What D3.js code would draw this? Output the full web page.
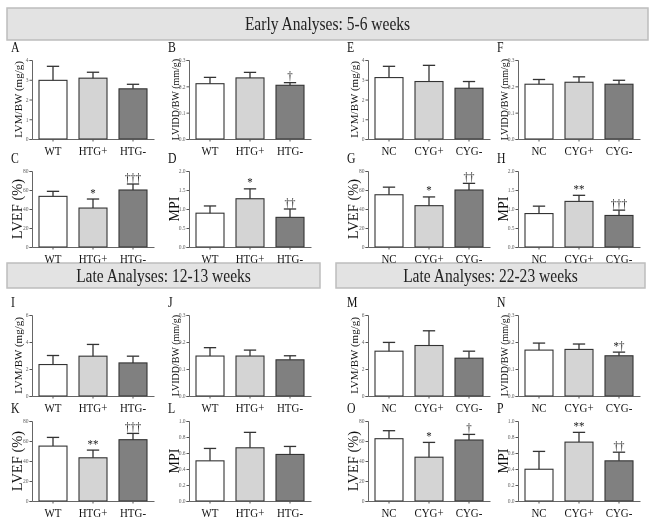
<!DOCTYPE html>
<html>
<head>
<meta charset="utf-8">
<script src="https://cdn.jsdelivr.net/npm/d3@7"></script>
<style>
  body { margin: 0; background: #fff; }
  svg { will-change: transform; }
  svg text { font-family: "Liberation Serif", "Times New Roman", serif; }
</style>
</head>
<body>
<div id="container"></div>
<script>
// groups
const htgGroups = ["WT", "HTG+", "HTG-"];
const cygGroups = ["NC", "CYG+", "CYG-"];

// tick labels
const ticksLVM4 = [0, 1, 2, 3, 4];
const ticksLVM6 = [0, 2, 4, 6];
const ticksLVIDD = [0, 0.1, 0.2, 0.3];
const ticksLVEF = [0, 20, 40, 60, 80];
const ticksMPI2 = [0, 0.5, 1.0, 1.5, 2.0];
const ticksMPI1 = [0, 0.2, 0.4, 0.6, 0.8, 1.0];

// early, HTG
const meanA = [2.97, 3.08, 2.54], errA = [0.71, 0.30, 0.23], sigA = ["", "", ""];
const meanB = [0.210, 0.232, 0.204], errB = [0.024, 0.021, 0.010], sigB = ["", "", "†"];
const meanC = [53.3, 41.0, 60.0], errC = [5.3, 9.5, 6.3], sigC = ["", "*", "†††"];
const meanD = [0.89, 1.27, 0.78], errD = [0.19, 0.26, 0.22], sigD = ["", "*", "††"];
// early, CYG
const meanE = [3.11, 2.91, 2.57], errE = [0.57, 0.82, 0.34], sigE = ["", "", ""];
const meanF = [0.208, 0.2155, 0.208], errF = [0.018, 0.0205, 0.015], sigF = ["", "", ""];
const meanG = [55.0, 43.5, 60.0], errG = [8.0, 9.2, 7.0], sigG = ["", "*", "††"];
const meanH = [0.88, 1.20, 0.83], errH = [0.195, 0.16, 0.14], sigH = ["", "**", "†††"];
// late 12-13 weeks, HTG
const meanI = [2.33, 2.95, 2.45], errI = [0.67, 0.87, 0.50], sigI = ["", "", ""];
const meanJ = [0.148, 0.148, 0.134], errJ = [0.031, 0.022, 0.015], sigJ = ["", "", ""];
const meanK = [54.9, 43.2, 61.3], errK = [8.7, 7.7, 6.3], sigK = ["", "**", "†††"];
const meanL = [0.502, 0.665, 0.582], errL = [0.155, 0.193, 0.10], sigL = ["", "", ""];
// late 22-23 weeks, CYG
const meanM = [3.32, 3.74, 2.80], errM = [0.65, 1.09, 0.52], sigM = ["", "", ""];
const meanN = [0.170, 0.1725, 0.149], errN = [0.026, 0.020, 0.0135], sigN = ["", "", "*†"];
const meanO = [62.3, 43.8, 61.0], errO = [8.0, 14.8, 5.6], sigO = ["", "*", "†"];
const meanP = [0.397, 0.736, 0.502], errP = [0.223, 0.122, 0.108], sigP = ["", "**", "††"];

const fills = ["#ffffff", "#d4d4d4", "#808080"];
const serif = "Liberation Serif, Times New Roman, serif";
const squeeze = 0.84; // reference text is narrow, taller than wide

const W = 654, H = 522;
const svg = d3.select("#container").append("svg")
    .attr("width", W).attr("height", H);

// layout: axis x per column, [top, bottom] per row
const colX = [32, 189, 368, 518];
const rowY = [[60, 139], [171, 247], [315, 396], [421, 501]];
const plotW = 122;

const panels = [
    { letter: "A", col: 0, row: 0, groups: htgGroups, mean: meanA, err: errA, sig: sigA, ticks: ticksLVM4, fmt: "d", label: "LVM/BW (mg/g)", size: 11 },
    { letter: "B", col: 1, row: 0, groups: htgGroups, mean: meanB, err: errB, sig: sigB, ticks: ticksLVIDD, fmt: ".1f", label: "LVIDD/BW (mm/g)", size: 10 },
    { letter: "C", col: 0, row: 1, groups: htgGroups, mean: meanC, err: errC, sig: sigC, ticks: ticksLVEF, fmt: "d", label: "LVEF (%)", size: 14.5 },
    { letter: "D", col: 1, row: 1, groups: htgGroups, mean: meanD, err: errD, sig: sigD, ticks: ticksMPI2, fmt: ".1f", label: "MPI", size: 14 },
    { letter: "E", col: 2, row: 0, groups: cygGroups, mean: meanE, err: errE, sig: sigE, ticks: ticksLVM4, fmt: "d", label: "LVM/BW (mg/g)", size: 11 },
    { letter: "F", col: 3, row: 0, groups: cygGroups, mean: meanF, err: errF, sig: sigF, ticks: ticksLVIDD, fmt: ".1f", label: "LVIDD/BW (mm/g)", size: 10 },
    { letter: "G", col: 2, row: 1, groups: cygGroups, mean: meanG, err: errG, sig: sigG, ticks: ticksLVEF, fmt: "d", label: "LVEF (%)", size: 14.5 },
    { letter: "H", col: 3, row: 1, groups: cygGroups, mean: meanH, err: errH, sig: sigH, ticks: ticksMPI2, fmt: ".1f", label: "MPI", size: 14 },
    { letter: "I", col: 0, row: 2, groups: htgGroups, mean: meanI, err: errI, sig: sigI, ticks: ticksLVM6, fmt: "d", label: "LVM/BW (mg/g)", size: 11 },
    { letter: "J", col: 1, row: 2, groups: htgGroups, mean: meanJ, err: errJ, sig: sigJ, ticks: ticksLVIDD, fmt: ".1f", label: "LVIDD/BW (mm/g)", size: 10 },
    { letter: "K", col: 0, row: 3, groups: htgGroups, mean: meanK, err: errK, sig: sigK, ticks: ticksLVEF, fmt: "d", label: "LVEF (%)", size: 14.5 },
    { letter: "L", col: 1, row: 3, groups: htgGroups, mean: meanL, err: errL, sig: sigL, ticks: ticksMPI1, fmt: ".1f", label: "MPI", size: 14 },
    { letter: "M", col: 2, row: 2, groups: cygGroups, mean: meanM, err: errM, sig: sigM, ticks: ticksLVM6, fmt: "d", label: "LVM/BW (mg/g)", size: 11 },
    { letter: "N", col: 3, row: 2, groups: cygGroups, mean: meanN, err: errN, sig: sigN, ticks: ticksLVIDD, fmt: ".1f", label: "LVIDD/BW (mm/g)", size: 10 },
    { letter: "O", col: 2, row: 3, groups: cygGroups, mean: meanO, err: errO, sig: sigO, ticks: ticksLVEF, fmt: "d", label: "LVEF (%)", size: 14.5 },
    { letter: "P", col: 3, row: 3, groups: cygGroups, mean: meanP, err: errP, sig: sigP, ticks: ticksMPI1, fmt: ".1f", label: "MPI", size: 14 }
];

// header banners
const banners = [
    { x: 7, y: 8, w: 641, h: 32, text: "Early Analyses: 5-6 weeks" },
    { x: 7, y: 263, w: 313, h: 25, text: "Late Analyses: 12-13 weeks" },
    { x: 336, y: 263, w: 309, h: 25, text: "Late Analyses: 22-23 weeks" }
];
banners.forEach(b => {
    svg.append("rect").attr("x", b.x).attr("y", b.y).attr("width", b.w).attr("height", b.h)
        .attr("fill", "#e3e3e3").attr("stroke", "#bdbdbd").attr("stroke-width", 1.5);
    svg.append("text")
        .attr("transform", `translate(${b.x + b.w / 2},${b.y + b.h / 2 + 6}) scale(${squeeze},1)`)
        .attr("text-anchor", "middle").attr("font-size", 18.5).attr("fill", "#222")
        .attr("font-family", serif).text(b.text);
});

function drawPanel(p) {
    const x0 = colX[p.col];
    const [top, bottom] = rowY[p.row];
    const ymax = p.ticks[p.ticks.length - 1];

    const x = d3.scaleBand().domain(p.groups).range([x0, x0 + plotW])
        .paddingInner(0.3).paddingOuter(0.175);
    const y = d3.scaleLinear().domain([0, ymax]).range([bottom, top]);

    const g = svg.append("g");

    // panel letter
    g.append("text")
        .attr("transform", `translate(${x0 - 21},${top - 8}) scale(${squeeze},1)`)
        .attr("font-size", 14).attr("fill", "#111").attr("font-family", serif).text(p.letter);

    // y title
    g.append("text")
        .attr("transform", `translate(${x0 - 10.5},${(top + bottom) / 2}) rotate(-90)`)
        .attr("text-anchor", "middle").attr("font-size", p.size).attr("fill", "#111")
        .attr("font-family", serif).text(p.label);

    // bars
    g.selectAll("rect.bar").data(p.mean).enter().append("rect")
        .attr("class", "bar")
        .attr("x", (d, i) => x(p.groups[i])).attr("y", d => y(d))
        .attr("width", x.bandwidth()).attr("height", d => bottom - y(d))
        .attr("fill", (d, i) => fills[i]).attr("stroke", "#333").attr("stroke-width", 1.1);

    // error bars (upper only)
    const cap = x.bandwidth() * 0.22;
    p.mean.forEach((m, i) => {
        const cx = x(p.groups[i]) + x.bandwidth() / 2;
        const yt = y(m + p.err[i]);
        g.append("line").attr("x1", cx).attr("x2", cx).attr("y1", y(m)).attr("y2", yt)
            .attr("stroke", "#333").attr("stroke-width", 1.3);
        g.append("line").attr("x1", cx - cap).attr("x2", cx + cap).attr("y1", yt).attr("y2", yt)
            .attr("stroke", "#333").attr("stroke-width", 1.3);
        if (p.sig[i]) {
            g.append("text")
                .attr("transform", `translate(${cx},${yt - 2.5}) scale(${squeeze},1)`)
                .attr("text-anchor", "middle").attr("font-size", 13).attr("fill", "#222")
                .attr("font-family", serif).text(p.sig[i]);
        }
    });

    // axes
    const yAxis = g.append("g").attr("transform", `translate(${x0},0)`)
        .call(d3.axisLeft(y).tickValues(p.ticks).tickFormat(d3.format(p.fmt)).tickSize(2.5).tickPadding(1));
    yAxis.selectAll("text").attr("font-size", 5.5).attr("fill", "#666")
        .attr("font-family", serif);
    yAxis.selectAll("line").attr("stroke", "#555");
    yAxis.select(".domain").attr("stroke", "#555").attr("stroke-width", 0.9);

    const xAxis = g.append("g").attr("transform", `translate(0,${bottom})`)
        .call(d3.axisBottom(x).tickSize(2.5).tickPadding(4).tickSizeOuter(0));
    xAxis.selectAll("text")
        .attr("font-size", 13).attr("fill", "#111").attr("font-family", serif)
        .attr("transform", `scale(${squeeze},1)`)
        .attr("dy", "0.71em");
    // keep labels centred under ticks after the horizontal squeeze
    xAxis.selectAll(".tick text").attr("x", 0);
    xAxis.selectAll("line").attr("stroke", "#555");
    xAxis.select(".domain").attr("stroke", "#555").attr("stroke-width", 0.9);
}

panels.forEach(drawPanel);
</script>
</body>
</html>
